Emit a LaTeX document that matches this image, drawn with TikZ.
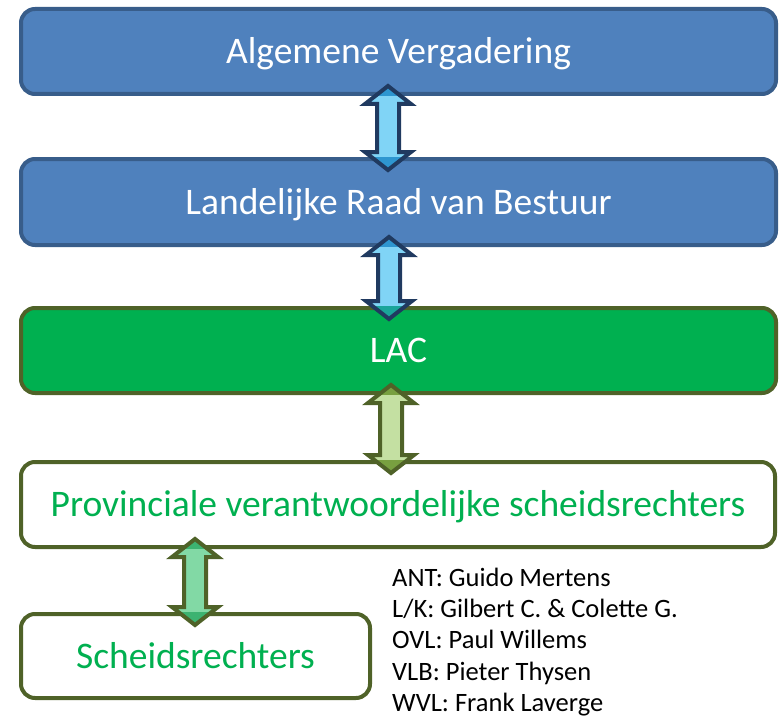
\documentclass[tikz,border=0pt]{standalone}
\usepackage{fontspec}
\setmainfont{Carlito}
\usetikzlibrary{calc}
\definecolor{boxblue}{HTML}{4F81BD}
\definecolor{boxblueline}{HTML}{385D8A}
\definecolor{lacgreen}{HTML}{00B050}
\definecolor{oliveline}{HTML}{4F6228}
\definecolor{navyline}{HTML}{203A60}
\definecolor{arrblue}{HTML}{80D4F6}
\definecolor{arrbluedark}{HTML}{2E96D0}
\definecolor{arrteal}{HTML}{1AA59A}
\definecolor{arrlime}{HTML}{C4E0A2}
\definecolor{arrlimedark}{HTML}{78A040}
\definecolor{arrmint}{HTML}{82D9A5}
\definecolor{arrmintdark}{HTML}{3CB371}

\newcommand\dblarrow[7]{%
  \coordinate (ax) at (#3,0);
  \path ($(ax |- #1.south)+(0,-10)$) coordinate (T) ($(ax |- #2.north)+(0,13)$) coordinate (B);
  \fill[#4] let \p1=(T), \p2=(B) in (\x1,\y1) -- (\x1+23pt,\y1-18pt) -- (\x1+11pt,\y1-18pt) -- (\x1+11pt,\y2+18pt) -- (\x1+23pt,\y2+18pt) -- (\x1,\y2) -- (\x1-23pt,\y2+18pt) -- (\x1-11pt,\y2+18pt) -- (\x1-11pt,\y1-18pt) -- (\x1-23pt,\y1-18pt) -- cycle;
  \begin{scope}
    \clip let \p1=(T), \p2=(B) in (\x1,\y1) -- (\x1+23pt,\y1-18pt) -- (\x1+11pt,\y1-18pt) -- (\x1+11pt,\y2+18pt) -- (\x1+23pt,\y2+18pt) -- (\x1,\y2) -- (\x1-23pt,\y2+18pt) -- (\x1-11pt,\y2+18pt) -- (\x1-11pt,\y1-18pt) -- (\x1-23pt,\y1-18pt) -- cycle;
    \fill[#5] (#1.south west) rectangle (#1.north east);
    \fill[#6] (#2.south west) rectangle (#2.north east);
  \end{scope}
  \draw[arrowline, draw=#7] let \p1=(T), \p2=(B) in (\x1,\y1) -- (\x1+23pt,\y1-18pt) -- (\x1+11pt,\y1-18pt) -- (\x1+11pt,\y2+18pt) -- (\x1+23pt,\y2+18pt) -- (\x1,\y2) -- (\x1-23pt,\y2+18pt) -- (\x1-11pt,\y2+18pt) -- (\x1-11pt,\y1-18pt) -- (\x1-23pt,\y1-18pt) -- cycle;
}

\tikzset{
  box/.style={rounded corners=14pt, line width=4pt, minimum height=85pt,
    text height=24pt, text depth=0pt, inner sep=0pt,
    font=\fontsize{37.5}{44}\selectfont},
  bluebox/.style={box, fill=boxblue, draw=boxblueline, text=white, minimum width=755pt},
  lacbox/.style={box, fill=lacgreen, draw=oliveline, text=white, minimum width=755pt},
  whitebox/.style={box, fill=white, draw=oliveline, text=lacgreen},
  arrowline/.style={line width=4pt, line join=miter},
  listline/.style={anchor=base west, inner sep=0pt, font=\fontsize{26.5}{31}\selectfont}
}

\begin{document}
\begin{tikzpicture}[x=1pt, y=-1pt]
  \useasboundingbox (0,0) rectangle (780,717);
  \node[bluebox] (b1) at (398.5,51.5) {Algemene Vergadering};
  \node[bluebox, minimum height=86pt] (b2) at (398.5,202) {Landelijke Raad van Bestuur};
  \node[lacbox] (b3) at (398.5,350.5) {LAC};
  \node[whitebox, minimum width=754pt] (b4) at (398,504.5) {Provinciale verantwoordelijke scheidsrechters};
  \node[whitebox, minimum width=349pt, minimum height=84pt] (b5) at (195.5,656) {Scheidsrechters};

  \dblarrow{b1}{b2}{388}{arrblue}{arrbluedark}{arrbluedark}{navyline}
  \dblarrow{b2}{b3}{389}{arrblue}{arrbluedark}{arrteal}{navyline}
  \dblarrow{b3}{b4}{391}{arrlime}{arrlimedark}{arrlimedark}{oliveline}
  \dblarrow{b4}{b5}{195}{arrmint}{arrmintdark}{arrmintdark}{oliveline}

  \node[listline] (l1) at (392,586) {ANT: Guido Mertens};
  \node[listline] (l2) at (392,617) {L/K: Gilbert C. \& Colette G.};
  \node[listline] (l3) at (392,648) {OVL: Paul Willems};
  \node[listline] (l4) at (392,680) {VLB: Pieter Thysen};
  \node[listline] (l5) at (392,711) {WVL: Frank Laverge};
\end{tikzpicture}
\end{document}
